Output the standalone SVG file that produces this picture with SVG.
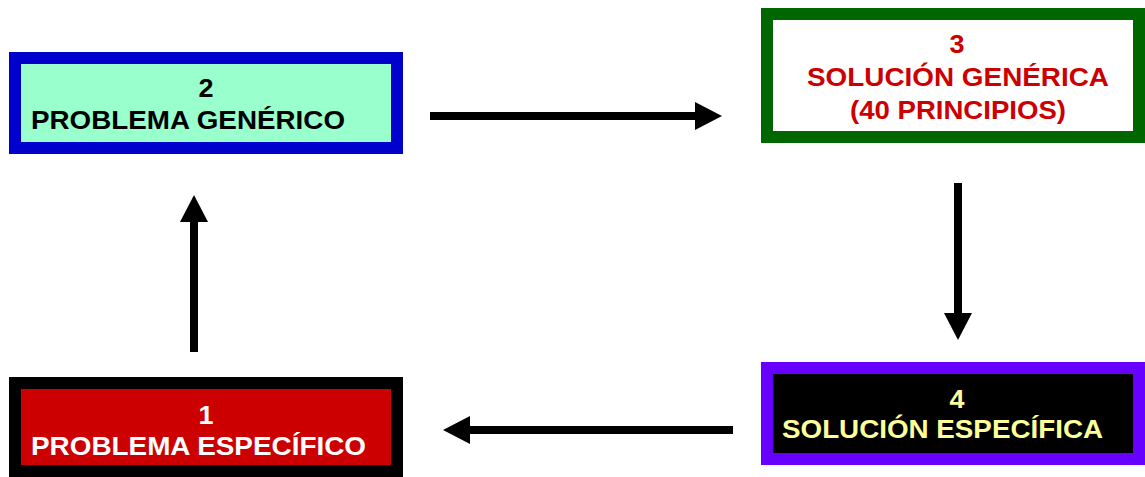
<svg xmlns="http://www.w3.org/2000/svg" width="1145" height="477" viewBox="0 0 1145 477">
<style>
.t{font-family:"Liberation Sans",Arial,sans-serif;font-weight:bold;font-size:25px}
.c{text-anchor:middle}
.b{stroke-width:12}
</style>
<defs>
<marker id="ah" markerUnits="userSpaceOnUse" markerWidth="28" markerHeight="28" refX="0" refY="14" orient="auto">
<path d="M0,0 L27,14 L0,28 Z" fill="#000"/>
</marker>
</defs>
<rect width="1145" height="477" fill="#fff"/>
<g id="n2">
<rect class="b" x="15" y="58" width="382" height="90" fill="#99FFCC" stroke="#0000CC"/>
<text class="t c" x="206" y="97" fill="#000" textLength="15" lengthAdjust="spacingAndGlyphs">2</text>
<text class="t" x="31" y="129" fill="#000" textLength="314" lengthAdjust="spacingAndGlyphs">PROBLEMA GENÉRICO</text>
</g>
<g id="n3">
<rect class="b" x="767" y="14" width="372" height="123" fill="#fff" stroke="#006600"/>
<text class="t c" x="957" y="53" fill="#CC0000" textLength="15" lengthAdjust="spacingAndGlyphs">3</text>
<text class="t c" x="958" y="86" fill="#CC0000" textLength="302" lengthAdjust="spacingAndGlyphs">SOLUCIÓN GENÉRICA</text>
<text class="t c" x="958" y="119" fill="#CC0000" textLength="216" lengthAdjust="spacingAndGlyphs">(40 PRINCIPIOS)</text>
</g>
<g id="n4">
<rect class="b" x="767" y="368" width="372" height="91" fill="#000" stroke="#6600FF"/>
<text class="t c" x="957" y="408" fill="#FFFF99" textLength="15" lengthAdjust="spacingAndGlyphs">4</text>
<text class="t" x="782" y="438" fill="#FFFF99" textLength="321" lengthAdjust="spacingAndGlyphs">SOLUCIÓN ESPECÍFICA</text>
</g>
<g id="n1">
<rect class="b" x="15" y="383" width="382" height="88" fill="#CC0000" stroke="#000"/>
<text class="t c" x="206" y="424" fill="#fff" textLength="15" lengthAdjust="spacingAndGlyphs">1</text>
<text class="t" x="31" y="455" fill="#fff" textLength="335" lengthAdjust="spacingAndGlyphs">PROBLEMA ESPECÍFICO</text>
</g>
<g id="connectors" stroke="#000" stroke-width="8" fill="none">
<line x1="430" y1="116" x2="695" y2="116" marker-end="url(#ah)"/>
<line x1="958" y1="183" x2="958" y2="313" marker-end="url(#ah)"/>
<line x1="733" y1="430" x2="470" y2="430" marker-end="url(#ah)"/>
<line x1="194" y1="352" x2="194" y2="222" marker-end="url(#ah)"/>
</g>
</svg>
